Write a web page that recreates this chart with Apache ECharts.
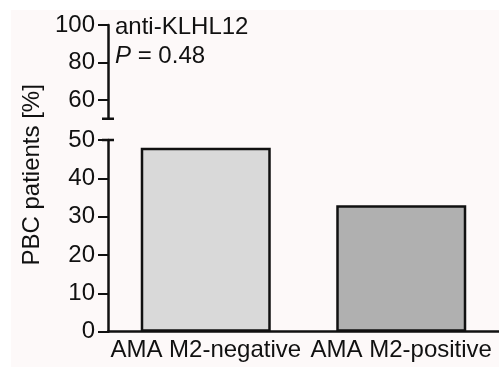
<!DOCTYPE html>
<html>
<head>
<meta charset="utf-8">
<script src="https://cdn.jsdelivr.net/npm/echarts@6/dist/echarts.min.js"></script>
<style>
  html, body { margin: 0; padding: 0; background: #ffffff; }
  #chart { width: 499px; height: 367px; }
</style>
</head>
<body>
<div id="chart"></div>
<script>
// 分类与数值
const categories = ['AMA M2-negative', 'AMA M2-positive']
const patientPct = [48, 33]
const barColors = ['#d9d9d9', '#b0b0b0']
const lowerTicks = [0, 10, 20, 30, 40, 50]
const upperTicks = [60, 80, 100]

const font = 'Liberation Sans, Arial, sans-serif'
const myChart = echarts.init(document.getElementById('chart'))

const options = {
  animation: false,
  backgroundColor: '#ffffff',
  // 浅色背景区域
  graphic: [{
    type: 'rect',
    silent: true,
    z: -10,
    shape: { x: 11, y: 10, width: 488, height: 357 },
    style: { fill: '#fdf9f9' }
  }],
  title: {
    text: '{n|anti-KLHL12}\n{i|P}{n| = 0.48}',
    left: 110,
    top: 8,
    textStyle: {
      fontWeight: 'normal',
      rich: {
        n: { fontFamily: font, fontSize: 24, color: '#111', fontWeight: 'normal', lineHeight: 29 },
        i: { fontFamily: font, fontSize: 24, color: '#111', fontWeight: 'normal', fontStyle: 'italic', lineHeight: 29 }
      }
    }
  },
  // 上下两段坐标（断轴）
  grid: [
    { left: 108, right: 0, top: 140, height: 191.7 },
    { left: 108, right: 0, top: 25, height: 93.75 }
  ],
  xAxis: [
    {
      gridIndex: 0,
      type: 'category',
      data: categories,
      axisLine: { lineStyle: { color: '#111', width: 2.5 } },
      axisTick: { alignWithLabel: true, length: 6, lineStyle: { color: '#111', width: 2 } },
      axisLabel: { fontFamily: font, fontSize: 24, color: '#111', margin: 7, interval: 0 }
    },
    {
      gridIndex: 1,
      type: 'category',
      data: categories,
      show: false
    }
  ],
  yAxis: [
    {
      gridIndex: 0,
      type: 'value',
      min: 0,
      max: 50,
      interval: 10,
      name: 'PBC patients [%]',
      nameLocation: 'middle',
      nameGap: 64,
      nameTextStyle: { fontFamily: font, fontSize: 24, color: '#111', padding: [0, 0, 0, 122] },
      splitLine: { show: false },
      axisLine: {
        show: true,
        lineStyle: { color: '#111', width: 2.5 },
        symbol: ['none', 'rect'],
        symbolSize: [12, 2.5]
      },
      axisTick: { show: true, length: 10, lineStyle: { color: '#111', width: 2 } },
      axisLabel: {
        fontFamily: font, fontSize: 24, color: '#111', margin: 13,
        customValues: lowerTicks
      }
    },
    {
      gridIndex: 1,
      type: 'value',
      min: 50,
      max: 100,
      splitLine: { show: false },
      axisLine: {
        show: true,
        lineStyle: { color: '#111', width: 2.5 },
        symbol: ['rect', 'none'],
        symbolSize: [12, 2.5]
      },
      axisTick: { show: true, length: 10, lineStyle: { color: '#111', width: 2 }, customValues: upperTicks },
      axisLabel: {
        fontFamily: font, fontSize: 24, color: '#111', margin: 13,
        customValues: upperTicks
      }
    }
  ],
  series: [
    {
      type: 'bar',
      xAxisIndex: 0,
      yAxisIndex: 0,
      barWidth: '66.5%',
      data: patientPct.map((v, i) => ({
        value: v,
        itemStyle: { color: barColors[i], borderColor: '#111', borderWidth: 2.5 }
      }))
    }
  ]
}
myChart.setOption(options)
</script>
</body>
</html>
